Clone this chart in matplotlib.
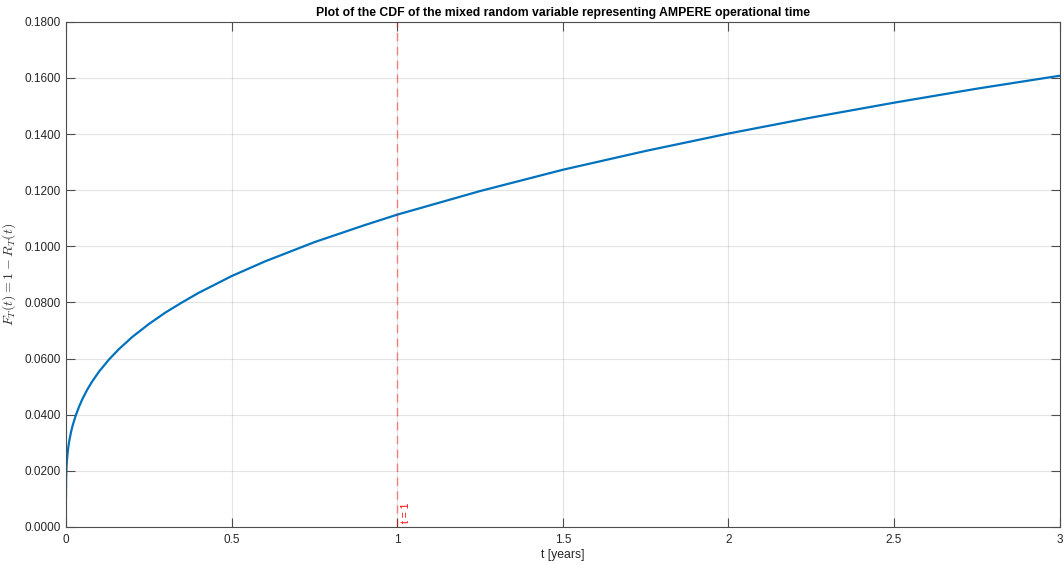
import numpy as np
import matplotlib.pyplot as plt
from matplotlib.ticker import FormatStrFormatter

# valores (t en años, F_T(t))
t_years = [0.0, 0.0005, 0.001, 0.002, 0.003, 0.005, 0.007, 0.01, 0.015, 0.02,
           0.03, 0.04, 0.05, 0.065, 0.08, 0.1, 0.13, 0.16, 0.2, 0.25, 0.3,
           0.35, 0.4, 0.5, 0.6, 0.75, 0.9, 1.0, 1.25, 1.5, 1.75, 2.0, 2.25,
           2.5, 2.75, 3.0]
cdf_vals = [0.0105, 0.0175, 0.0195, 0.0220, 0.0238, 0.0264, 0.0284, 0.0307, 0.0337, 0.0361,
            0.0399, 0.0430, 0.0457, 0.0491, 0.0520, 0.0554, 0.0597, 0.0634, 0.0677, 0.0723, 0.0764,
            0.0800, 0.0834, 0.0894, 0.0946, 0.1015, 0.1075, 0.1113, 0.1197, 0.1273, 0.1340, 0.1402, 0.1459,
            0.1512, 0.1562, 0.1608]
t_mark = 1.0
y_ticks = np.arange(0, 0.181, 0.02)
x_ticks = [0, 0.5, 1, 1.5, 2, 2.5, 3]

plt.rcParams['font.family'] = ['Liberation Sans', 'DejaVu Sans']
plt.rcParams['mathtext.fontset'] = 'cm'

fig = plt.figure(figsize=(10.64, 5.65), dpi=100)
ax = fig.add_axes([0.062, 0.0673, 0.934, 0.894])

ax.plot(t_years, cdf_vals, color='#0072BD', linewidth=1.6)
ax.axvline(t_mark, color='red', alpha=0.45, linewidth=1, linestyle=(0, (6, 4)))
ax.text(t_mark + 0.012, 0.0015, 't = 1', rotation=90, color='red', fontsize=7.5,
        ha='left', va='bottom')

ax.set_xlim(0, 3)
ax.set_ylim(0, 0.18)
ax.set_xticks(x_ticks)
ax.set_xticklabels(['0', '0.5', '1', '1.5', '2', '2.5', '3'])
ax.set_yticks(y_ticks)
ax.yaxis.set_major_formatter(FormatStrFormatter('%.4f'))
ax.grid(True, color='#262626', alpha=0.12, linewidth=0.8)

ax.tick_params(direction='in', length=6.5, width=0.8, colors='#4d4d4d', labelcolor='#262626',
               labelsize=8.5, top=True, right=True)
ax.tick_params(axis='x', pad=5)
for s in ax.spines.values():
    s.set_color('#4d4d4d')
    s.set_linewidth(0.8)

ax.set_title('Plot of the CDF of the mixed random variable representing AMPERE operational time',
             fontsize=8.8, fontweight='bold', color='black', pad=4)
ax.set_xlabel('t [years]', fontsize=8.8, color='#262626', labelpad=2)
ax.set_ylabel(r'$F_T(t) = 1 - R_T(t)$', fontsize=10, color='#333333', labelpad=5)

fig.savefig('out.png', dpi=100)
